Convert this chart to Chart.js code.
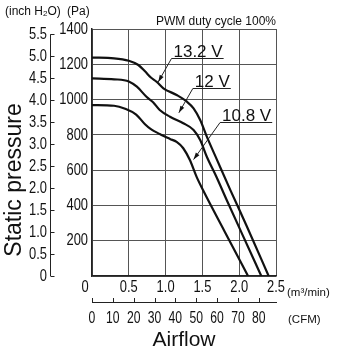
<!DOCTYPE html>
<html>
<head>
<meta charset="utf-8">
<script src="https://cdn.jsdelivr.net/npm/chart.js@4.4.1/dist/chart.umd.min.js"></script>
<style>
  html, body { margin: 0; padding: 0; background: #fff; }
</style>
</head>
<body>
<canvas id="pq" width="340" height="351"></canvas>
<script>
// P-Q curves, airflow in m3/min, static pressure in Pa
const flow132 = [0, 0.3, 0.5, 0.63, 0.72, 0.8, 0.88, 0.97, 1.15, 1.29, 1.38, 1.47, 1.56, 1.7, 1.88, 2.1, 2.4];
const pres132 = [1238, 1234, 1220, 1196, 1160, 1125, 1100, 1064, 1026, 988, 950, 884, 790, 657, 487, 285, 0];

const flow120 = [0, 0.3, 0.5, 0.61, 0.74, 0.83, 0.92, 1.06, 1.24, 1.38, 1.47, 1.56, 1.69, 1.83, 2.05, 2.3];
const pres120 = [1120, 1115, 1103, 1073, 1016, 985, 941, 903, 866, 828, 771, 676, 563, 431, 229, 0];

const flow108 = [0, 0.3, 0.45, 0.6, 0.72, 0.8, 0.92, 1.06, 1.15, 1.24, 1.33, 1.42, 1.52, 1.8, 2.12];
const pres108 = [969, 965, 948, 915, 860, 832, 805, 777, 760, 724, 657, 563, 477, 254, 0];

const seriesNames = ['13.2 V', '12 V', '10.8 V'];

// axis ranges
const flowMax = 2.5, flowStep = 0.5;
const presMax = 1400, presStep = 200;
const inchStep = 0.5, cfmStep = 10;
const PA_PER_INH2O = 249.089;
const M3MIN_PER_CFM = 0.0283168;

// leader lines for the voltage labels (data units: m3/min, Pa)
const leaders = [
  { name: seriesNames[0], at: [1.08, 1237], tip: [0.90, 1100] },
  { name: seriesNames[1], at: [1.37, 1064], tip: [1.18, 925] },
  { name: seriesNames[2], at: [1.74, 875], tip: [1.38, 660] }
];

const plain = '"Liberation Sans", Arial, sans-serif';
const SQUEEZE = 0.76; // no condensed face installed, so squeeze tick numbers by hand

const toPts = (xs, ys) => xs.map((v, i) => ({ x: v, y: ys[i] }));

const curve = (name, xs, ys) => ({
  label: name,
  data: toPts(xs, ys),
  showLine: true,
  borderColor: '#111',
  borderWidth: 2.2,
  pointRadius: 0,
  cubicInterpolationMode: 'monotone'
});

function squeezeText(ctx, text, px, py, align) {
  ctx.save();
  ctx.translate(px, py);
  ctx.scale(SQUEEZE, 1);
  ctx.textAlign = align;
  ctx.fillText(text, 0, 0);
  ctx.restore();
}

const extras = {
  id: 'extras',
  afterDraw(chart) {
    const { ctx, scales } = chart;
    const x = scales.x, y = scales.y, yIn = scales.yInch, xC = scales.xCfm;
    ctx.save();
    ctx.strokeStyle = '#222';
    ctx.fillStyle = '#111';
    ctx.lineWidth = 1;

    // inch H2O axis line with inward ticks
    const ax = yIn.right + 0.5;
    const top = yIn.getPixelForValue(yIn.ticks[yIn.ticks.length - 1].value);
    ctx.beginPath();
    ctx.moveTo(ax, yIn.getPixelForValue(0));
    ctx.lineTo(ax, top);
    yIn.ticks.forEach(t => {
      const py = Math.round(yIn.getPixelForValue(t.value)) + 0.5;
      ctx.moveTo(ax, py);
      ctx.lineTo(ax + 4, py);
    });
    ctx.stroke();

    // CFM ticks pointing up
    ctx.beginPath();
    xC.ticks.forEach(t => {
      const px = Math.round(xC.getPixelForValue(t.value)) + 0.5;
      ctx.moveTo(px, xC.top);
      ctx.lineTo(px, xC.top - 4);
    });
    ctx.stroke();

    // tick numbers
    ctx.textBaseline = 'middle';
    ctx.font = '17px ' + plain;
    y.ticks.forEach(t => squeezeText(ctx, t.label, y.right - 4, y.getPixelForValue(t.value), 'right'));
    yIn.ticks.forEach(t => squeezeText(ctx, t.label, yIn.right - 3, yIn.getPixelForValue(t.value), 'right'));
    x.ticks.forEach(t => squeezeText(ctx, t.label, x.getPixelForValue(t.value), x.top + 11, 'center'));
    // shared zero at the corner
    squeezeText(ctx, '0', x.getPixelForValue(0) - 7, x.top + 11, 'center');
    ctx.font = '16px ' + plain;
    xC.ticks.forEach(t => squeezeText(ctx, t.label, xC.getPixelForValue(t.value), xC.top + 17, 'center'));

    // unit notes
    ctx.font = '11.5px ' + plain;
    ctx.textAlign = 'left';
    ctx.textBaseline = 'alphabetic';
    ctx.fillText('(m³/min)', x.right + 11, x.top + 20);
    ctx.fillText('(CFM)', x.right + 12, xC.top + 21);

    ctx.font = '12px ' + plain;
    let cx = 5;
    ctx.fillText('(inch H', cx, 15);
    cx += ctx.measureText('(inch H').width;
    ctx.font = '8px ' + plain;
    ctx.fillText('2', cx, 16);
    cx += ctx.measureText('2').width;
    ctx.font = '12px ' + plain;
    ctx.fillText('O)', cx, 15);
    ctx.fillText('(Pa)', 67, 15);

    ctx.textAlign = 'right';
    ctx.fillText('PWM duty cycle 100%', x.right, 25);

    // axis titles
    ctx.textAlign = 'center';
    ctx.font = '21px ' + plain;
    ctx.fillText('Airflow', (x.left + x.right) / 2, 346);
    ctx.font = '23px ' + plain;
    ctx.save();
    ctx.translate(21, 180);
    ctx.rotate(-Math.PI / 2);
    ctx.fillText('Static pressure', 0, 0);
    ctx.restore();

    // voltage labels with leader arrows
    ctx.font = '17px ' + plain;
    ctx.textAlign = 'left';
    leaders.forEach(l => {
      const ux = x.getPixelForValue(l.at[0]), uy = Math.round(y.getPixelForValue(l.at[1])) + 0.5;
      const tx = x.getPixelForValue(l.tip[0]), ty = y.getPixelForValue(l.tip[1]);
      const w = ctx.measureText(l.name).width;
      ctx.fillText(l.name, ux + 2, uy - 2);
      ctx.beginPath();
      ctx.moveTo(ux + w + 3, uy);
      ctx.lineTo(ux, uy);
      ctx.lineTo(tx, ty);
      ctx.stroke();
      const ang = Math.atan2(ty - uy, tx - ux);
      const c = Math.cos(ang), s = Math.sin(ang);
      ctx.beginPath();
      ctx.moveTo(tx, ty);
      ctx.lineTo(tx - 7 * c + 2.2 * s, ty - 7 * s - 2.2 * c);
      ctx.lineTo(tx - 7 * c - 2.2 * s, ty - 7 * s + 2.2 * c);
      ctx.closePath();
      ctx.fill();
    });
    ctx.restore();
  }
};

new Chart(document.getElementById('pq'), {
  type: 'scatter',
  data: {
    datasets: [
      curve(seriesNames[0], flow132, pres132),
      curve(seriesNames[1], flow120, pres120),
      curve(seriesNames[2], flow108, pres108)
    ]
  },
  options: {
    responsive: false,
    animation: false,
    layout: { padding: { left: 0, right: 64, top: 29, bottom: 0 } },
    plugins: { legend: { display: false }, tooltip: { enabled: false } },
    scales: {
      x: {
        type: 'linear', position: 'bottom', weight: 0,
        min: 0, max: flowMax,
        grid: { color: '#555', lineWidth: 1, drawTicks: false },
        border: { color: '#222', width: 1.5 },
        ticks: {
          display: false, stepSize: flowStep,
          callback: v => (v === 0 ? '' : v.toFixed(1))
        },
        afterFit: s => { s.height = 26; }
      },
      xCfm: {
        type: 'linear', position: 'bottom', weight: 1,
        min: 0, max: flowMax / M3MIN_PER_CFM,
        grid: { display: false },
        border: { color: '#222', width: 1 },
        ticks: {
          display: false, stepSize: cfmStep, includeBounds: false, autoSkip: false,
          callback: v => String(v)
        },
        afterFit: s => { s.height = 49; }
      },
      y: {
        type: 'linear', position: 'left', weight: 0,
        min: 0, max: presMax,
        grid: { color: '#555', lineWidth: 1, drawTicks: false },
        border: { color: '#222', width: 1.5 },
        ticks: {
          display: false, stepSize: presStep,
          callback: v => (v === 0 ? '' : String(v))
        },
        afterFit: s => { s.width = 42; }
      },
      yInch: {
        type: 'linear', position: 'left', weight: 1,
        min: 0, max: presMax / PA_PER_INH2O,
        grid: { display: false },
        border: { display: false },
        ticks: {
          display: false, stepSize: inchStep, includeBounds: false, autoSkip: false,
          callback: v => (v === 0 ? '0' : v.toFixed(1))
        },
        afterFit: s => { s.width = 50; }
      }
    }
  },
  plugins: [extras]
});
</script>
</body>
</html>
